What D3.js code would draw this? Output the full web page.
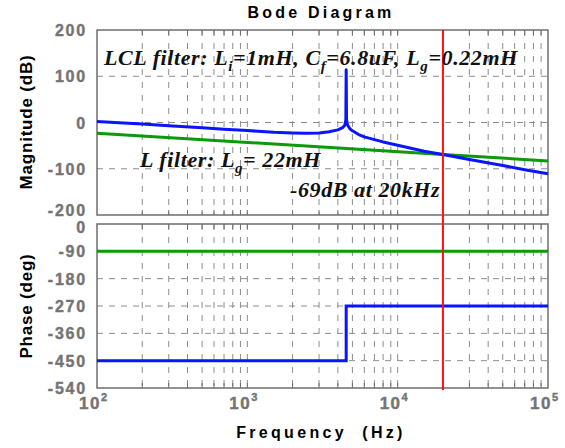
<!DOCTYPE html>
<html><head><meta charset="utf-8">
<script src="https://cdn.jsdelivr.net/npm/d3@7"></script>
<style>
body{margin:0;background:#fff;}
svg{display:block;}
</style></head>
<body>
<svg id="c" width="565" height="448"></svg>
<script>
// ---- data ----
const magFreq = [100,150,200,300,500,700,1000,1500,2000,2500,3000,3500,4000,4300,4450,4520,4545,4570,4650,4800,5000,5500,6000,7000,8000,10000,15000,20000,30000,50000,70000,100000];
const lclMag  = [2,-1,-3.5,-7,-11.5,-14.5,-17.5,-21,-22.5,-23,-22.5,-20,-16,-11,-6,6,114,6,-6,-13,-18,-26,-31,-37,-42,-49,-62,-69,-80,-93,-102,-111];
const lFreq   = [100,20000,100000];
const lMag    = [-23,-69,-83];
const lclPhaseFreq = [100,4545,4545,100000];
const lclPhase     = [-450,-450,-270,-270];
const lPhaseFreq   = [100,100000];
const lPhase       = [-90,-90];
const markerFreq   = 20000;
const magTicks   = [200,100,0,-100,-200];
const phaseTicks = [0,-90,-180,-270,-360,-450,-540];
const decades    = [2,3,4,5];

const svg = d3.select("#c");
const L = 97, R = 548;
const x = d3.scaleLog().domain([100,1e5]).range([L,R]);
const yM = d3.scaleLinear().domain([-200,200]).range([215,30]);
const yP = d3.scaleLinear().domain([-540,0]).range([388,224]);

const gridCol = "#8c8c8c", frameCol = "#6e6e6e", tickCol = "#747474";
const minors = [];
for (let d=2; d<5; d++) for (let m=1; m<10; m++) minors.push(m*Math.pow(10,d));

function panel(y, ticks){
  const [y0,y1] = y.range();
  const g = svg.append("g");
  const inner = minors.filter(f=>f>100);
  g.selectAll(".vg").data(inner).enter().append("line")
    .attr("x1",d=>x(d)).attr("x2",d=>x(d)).attr("y1",y1).attr("y2",y0)
    .attr("stroke",gridCol).attr("stroke-width",1).attr("stroke-dasharray","6,7");
  g.selectAll(".hg").data(ticks.slice(1,-1)).enter().append("line")
    .attr("x1",L).attr("x2",R).attr("y1",d=>y(d)).attr("y2",d=>y(d))
    .attr("stroke",gridCol).attr("stroke-width",1).attr("stroke-dasharray","6,6");
  g.selectAll(".tb").data(inner).enter().append("line")
    .attr("x1",d=>x(d)).attr("x2",d=>x(d)).attr("y1",y0).attr("y2",y0-5)
    .attr("stroke",frameCol);
  g.selectAll(".tt").data(inner).enter().append("line")
    .attr("x1",d=>x(d)).attr("x2",d=>x(d)).attr("y1",y1).attr("y2",y1+5)
    .attr("stroke",frameCol);
  g.append("rect").attr("x",L).attr("y",y1).attr("width",R-L).attr("height",y0-y1)
    .attr("fill","none").attr("stroke",frameCol).attr("stroke-width",1.5);
  return g;
}
panel(yM, magTicks.slice().reverse());
panel(yP, phaseTicks.slice().reverse());

const tickFont = "'Liberation Sans', Arial, sans-serif";
function tickText(sel){
  sel.attr("font-family",tickFont).attr("font-weight","bold").attr("font-size",16)
    .attr("letter-spacing",1.8).attr("fill",tickCol)
    .attr("stroke",tickCol).attr("stroke-width",0.4);
}
svg.append("g").selectAll("text").data(magTicks).enter().append("text")
  .attr("x",87).attr("y",d=>yM(d)+(d===-200?1:6)).attr("text-anchor","end")
  .call(tickText).text(d=>d);
svg.append("g").selectAll("text").data(phaseTicks).enter().append("text")
  .attr("x",87).attr("y",d=>yP(d)+(d===0?9:6)).attr("text-anchor","end")
  .call(tickText).text(d=>d);

const xl = svg.append("g").selectAll("text").data(decades).enter().append("text")
  .attr("x",d=>x(Math.pow(10,d))-18).attr("y",409)
  .call(tickText).attr("font-size",17).attr("letter-spacing",1.5);
xl.append("tspan").text("10");
xl.append("tspan").attr("dy",-8).attr("font-size",11).text(d=>d);

const line = (yy)=>d3.line().x(d=>x(d[0])).y(d=>yy(d[1]));
svg.append("path").datum(lFreq.map((f,i)=>[f,lMag[i]]))
  .attr("d",line(yM)).attr("fill","none").attr("stroke","#0a9a0a").attr("stroke-width",3);
svg.append("path").datum(magFreq.map((f,i)=>[f,lclMag[i]]))
  .attr("d",line(yM)).attr("fill","none").attr("stroke","#0a14ff").attr("stroke-width",3)
  .attr("stroke-linejoin","round");
svg.append("path").datum(lPhaseFreq.map((f,i)=>[f,lPhase[i]]))
  .attr("d",line(yP)).attr("fill","none").attr("stroke","#0a9a0a").attr("stroke-width",3);
svg.append("path").datum(lclPhaseFreq.map((f,i)=>[f,lclPhase[i]]))
  .attr("d",line(yP)).attr("fill","none").attr("stroke","#0a14ff").attr("stroke-width",3);

svg.append("line").attr("x1",x(markerFreq)).attr("x2",x(markerFreq))
  .attr("y1",30).attr("y2",390).attr("stroke","#ff1010").attr("stroke-width",2);

svg.append("text").attr("x",321).attr("y",18).attr("text-anchor","middle")
  .attr("font-family",tickFont).attr("font-weight","bold").attr("font-size",16)
  .attr("letter-spacing",3.2).text("Bode Diagram");
svg.append("text").attr("x",321).attr("y",438).attr("text-anchor","middle")
  .attr("font-family",tickFont).attr("font-weight","bold").attr("font-size",16)
  .attr("letter-spacing",3.3).style("white-space","pre").text("Frequency  (Hz)");
svg.append("text").attr("transform","translate(32,122) rotate(-90)").attr("text-anchor","middle")
  .attr("font-family",tickFont).attr("font-weight","bold").attr("font-size",17)
  .attr("letter-spacing",0.8).text("Magnitude (dB)");
svg.append("text").attr("transform","translate(32,306) rotate(-90)").attr("text-anchor","middle")
  .attr("font-family",tickFont).attr("font-weight","bold").attr("font-size",17)
  .attr("letter-spacing",0.8).text("Phase (deg)");

const serif = "'Liberation Serif','Times New Roman',serif";
function note(xx, yy, parts){
  const t = svg.append("text").attr("x",xx).attr("y",yy)
    .attr("font-family",serif).attr("font-weight","bold").attr("font-style","italic")
    .attr("font-size",22).attr("letter-spacing",0.6).attr("fill","#111").style("white-space","pre");
  let shifted = false;
  parts.forEach(p=>{
    if (typeof p === "string") {
      t.append("tspan").attr("dy", shifted ? -6 : 0).text(p);
      shifted = false;
    } else {
      t.append("tspan").attr("dy",6).attr("font-size",15).text(p.sub);
      shifted = true;
    }
  });
}
note(104,65,["LCL filter: L",{sub:"i"},"=1mH, C",{sub:"f"},"=6.8uF, L",{sub:"g"},"=0.22mH"]);
note(140,167,["L filter: L",{sub:"g"},"= 22mH"]);
note(290,197,["-69dB at 20kHz"]);
</script>
</body></html>
